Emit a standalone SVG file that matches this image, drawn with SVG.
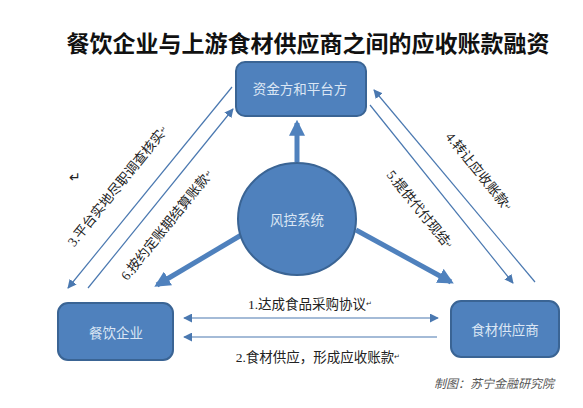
<svg xmlns="http://www.w3.org/2000/svg" width="583" height="408" viewBox="0 0 583 408">
<style>
.node{fill:#4f81bd;stroke:#3a6494;stroke-width:2}
.nt{font-family:"Noto Sans CJK SC","Liberation Sans",sans-serif;font-size:13.5px;fill:#dbe6f4;text-anchor:middle;dominant-baseline:central}
.lb{font-family:"Liberation Serif","Noto Sans CJK SC",serif;font-size:13.5px;fill:#222;text-anchor:middle;dominant-baseline:central}
.thin{stroke:#4a78b0;stroke-width:1.2;fill:none}
.thick{stroke:#4f81bd;stroke-width:5;fill:none}
.mk{font-size:7px}
</style>
<defs>
<marker id="ah" viewBox="0 0 10 10" refX="9" refY="5" markerWidth="9" markerHeight="9" markerUnits="userSpaceOnUse" orient="auto-start-reverse">
<path d="M0,0 L10,5 L0,10 Z" fill="#4a78b0"/>
</marker>
<marker id="bh" viewBox="0 0 10 10" refX="8" refY="5" markerWidth="3.2" markerHeight="3.2" orient="auto">
<path d="M0,0 L10,5 L0,10 Z" fill="#4f81bd"/>
</marker>
</defs>
<rect width="583" height="408" fill="#ffffff"/>
<text x="308" y="42" font-family="'Noto Sans CJK SC',sans-serif" font-size="23" font-weight="bold" fill="#111" text-anchor="middle" dominant-baseline="central">餐饮企业与上游食材供应商之间的应收账款融资</text>
<g id="connectors">
<line class="thin" x1="232" y1="87" x2="68" y2="288" marker-end="url(#ah)"/>
<line class="thin" x1="88" y1="288" x2="233" y2="109" marker-end="url(#ah)"/>
<line class="thin" x1="535" y1="282" x2="374" y2="90" marker-end="url(#ah)"/>
<line class="thin" x1="370" y1="105" x2="513" y2="283" marker-end="url(#ah)"/>
<line class="thin" x1="184" y1="318" x2="438" y2="318" marker-start="url(#ah)" marker-end="url(#ah)"/>
<line class="thin" x1="437" y1="337" x2="184" y2="337" marker-end="url(#ah)"/>
<line class="thick" x1="297" y1="162" x2="297" y2="123" marker-end="url(#bh)"/>
<line class="thick" x1="243" y1="234" x2="157" y2="285" marker-end="url(#bh)"/>
<line class="thick" x1="356" y1="230" x2="451" y2="282" marker-end="url(#bh)"/>
<text class="lb" transform="translate(118,186) rotate(-51)">3.平台实地尽职调查核实<tspan class="mk">↵</tspan></text>
<text class="lb" transform="translate(167,225) rotate(-51)">6.按约定账期结算账款<tspan class="mk">↵</tspan></text>
<text class="lb" transform="translate(479,172) rotate(51)">4.转让应收账款<tspan class="mk">↵</tspan></text>
<text class="lb" transform="translate(420,210) rotate(51)">5.提供代付现结<tspan class="mk">↵</tspan></text>
<text class="lb" x="75" y="177" font-size="6">↵</text>
<text class="lb" x="310" y="304">1.达成食品采购协议<tspan class="mk">↵</tspan></text>
<text class="lb" x="318" y="357">2.食材供应，形成应收账款<tspan class="mk">↵</tspan></text>
</g>
<g id="funder">
<rect class="node" x="236" y="62" width="130" height="54" rx="9"/>
<text class="nt" x="300" y="88">资金方和平台方</text>
</g>
<g id="risk">
<ellipse class="node" cx="297" cy="219" rx="59" ry="56"/>
<text class="nt" x="297" y="219">风控系统</text>
</g>
<g id="restaurant">
<rect class="node" x="58" y="303" width="115" height="57" rx="10"/>
<text class="nt" x="116" y="332">餐饮企业</text>
</g>
<g id="supplier">
<rect class="node" x="451" y="301" width="108" height="56" rx="10"/>
<text class="nt" x="505" y="329">食材供应商</text>
</g>
<text x="494" y="382" font-family="'Noto Sans CJK SC',sans-serif" font-size="12" font-style="italic" fill="#555" text-anchor="middle" dominant-baseline="central">制图：苏宁金融研究院</text>
</svg>
